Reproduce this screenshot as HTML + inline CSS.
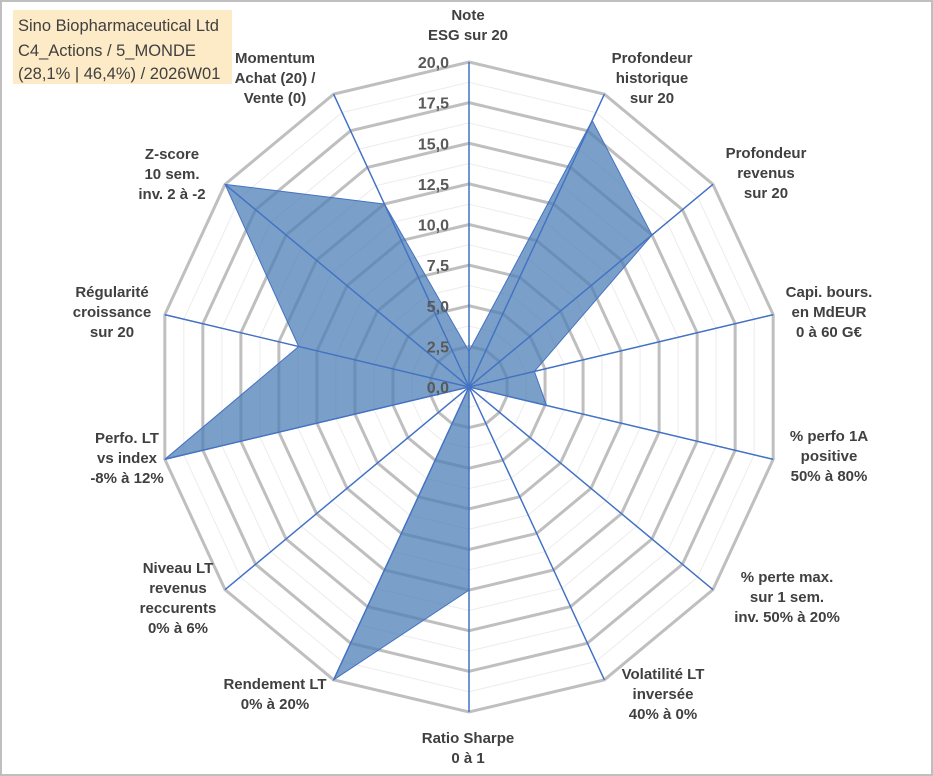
<!DOCTYPE html>
<html><head><meta charset="utf-8"><style>
html,body{margin:0;padding:0;background:#fff}
svg{display:block;font-family:"Liberation Sans",Arial,sans-serif}
.lbl{font-weight:bold;font-size:15px;fill:#404040;text-anchor:middle}
.tick{font-weight:bold;font-size:16px;fill:#595959;text-anchor:end}
</style></head><body>
<svg id="chart" width="933" height="776" viewBox="0 0 933 776">
<rect x="1" y="1" width="931" height="774" fill="#fff" stroke="#bfbfbf" stroke-width="2"/>
<g id="grid"></g>
<g id="axes"></g>
<g id="series"></g>
<g id="ticks"></g>
<g>
<text class="lbl" x="468" y="20"><tspan x="468">Note</tspan><tspan x="468" dy="20">ESG sur 20</tspan></text>
<text class="lbl" x="652" y="63"><tspan x="652">Profondeur</tspan><tspan x="652" dy="20">historique</tspan><tspan x="652" dy="20">sur 20</tspan></text>
<text class="lbl" x="766" y="158"><tspan x="766">Profondeur</tspan><tspan x="766" dy="20">revenus</tspan><tspan x="766" dy="20">sur 20</tspan></text>
<text class="lbl" x="829" y="297"><tspan x="829">Capi. bours.</tspan><tspan x="829" dy="20">en MdEUR</tspan><tspan x="829" dy="20">0 à 60 G€</tspan></text>
<text class="lbl" x="829" y="441"><tspan x="829">% perfo 1A</tspan><tspan x="829" dy="20">positive</tspan><tspan x="829" dy="20">50% à 80%</tspan></text>
<text class="lbl" x="787" y="582"><tspan x="787">% perte max.</tspan><tspan x="787" dy="20">sur 1 sem.</tspan><tspan x="787" dy="20">inv. 50% à 20%</tspan></text>
<text class="lbl" x="663" y="679"><tspan x="663">Volatilité LT</tspan><tspan x="663" dy="20">inversée</tspan><tspan x="663" dy="20">40% à 0%</tspan></text>
<text class="lbl" x="468" y="743"><tspan x="468">Ratio Sharpe</tspan><tspan x="468" dy="20">0 à 1</tspan></text>
<text class="lbl" x="275" y="689"><tspan x="275">Rendement LT</tspan><tspan x="275" dy="20">0% à 20%</tspan></text>
<text class="lbl" x="178" y="573"><tspan x="178">Niveau LT</tspan><tspan x="178" dy="20">revenus</tspan><tspan x="178" dy="20">reccurents</tspan><tspan x="178" dy="20">0% à 6%</tspan></text>
<text class="lbl" x="127" y="443"><tspan x="127">Perfo. LT</tspan><tspan x="127" dy="20">vs index</tspan><tspan x="127" dy="20">-8% à 12%</tspan></text>
<text class="lbl" x="112" y="297"><tspan x="112">Régularité</tspan><tspan x="112" dy="20">croissance</tspan><tspan x="112" dy="20">sur 20</tspan></text>
<text class="lbl" x="172" y="159"><tspan x="172">Z-score</tspan><tspan x="172" dy="20">10 sem.</tspan><tspan x="172" dy="20">inv. 2 à -2</tspan></text>
<text class="lbl" x="275" y="63"><tspan x="275">Momentum</tspan><tspan x="275" dy="20">Achat (20) /</tspan><tspan x="275" dy="20">Vente (0)</tspan></text>
</g>
<g>
<rect x="13" y="10" width="219" height="74" fill="#fdebc8"/>
<text x="18" y="31" font-size="16.5" fill="#404040">Sino Biopharmaceutical Ltd</text>
<text x="18" y="56" font-size="16.5" fill="#404040">C4_Actions / 5_MONDE</text>
<text x="18" y="79" font-size="16.5" fill="#404040">(28,1% | 46,4%) / 2026W01</text>
</g>
</svg>
<script>
const categories=["Note ESG","Profondeur historique","Profondeur revenus","Capi. bours.","% perfo 1A","% perte max.","Volatilité LT","Ratio Sharpe","Rendement LT","Niveau LT revenus","Perfo. LT","Régularité","Z-score","Momentum"];
const values=[2.2,18.2,15,4.3,5.1,0,0,12.5,20,0,20,11.2,20,12.5];
const tickValues=[0,2.5,5,7.5,10,12.5,15,17.5,20];
const tickLabels=["0,0","2,5","5,0","7,5","10,0","12,5","15,0","17,5","20,0"];
const maxV=20;
const cx=469,cy=387,rx=312,ry=325;
const NS="http://www.w3.org/2000/svg";
const n=categories.length;
function pt(i,v){const a=2*Math.PI*i/n;const f=v/maxV;return [cx+rx*f*Math.sin(a),cy-ry*f*Math.cos(a)];}
function poly(v){let s=[];for(let i=0;i<n;i++){s.push(pt(i,v).join(","));}return s.join(" ");}
const grid=document.getElementById("grid");
for(let k=1;k<=16;k++){
 const v=k*1.25;const p=document.createElementNS(NS,"polygon");
 p.setAttribute("points",poly(v));p.setAttribute("fill","none");
 if(k%2===0){p.setAttribute("stroke","#bfbfbf");p.setAttribute("stroke-width","3");}
 else{p.setAttribute("stroke","#ececec");p.setAttribute("stroke-width","1");}
 
 
 grid.appendChild(p);
}
const axes=document.getElementById("axes");
for(let i=0;i<n;i++){
 const e=pt(i,maxV);const l=document.createElementNS(NS,"line");
 l.setAttribute("x1",cx);l.setAttribute("y1",cy);l.setAttribute("x2",e[0]);l.setAttribute("y2",e[1]);
 l.setAttribute("stroke","#4472c4");l.setAttribute("stroke-width","1.3");
 
 
 axes.appendChild(l);
}
const series=document.getElementById("series");
let sp=[];for(let i=0;i<n;i++){sp.push(pt(i,values[i]).join(","));}
const area=document.createElementNS(NS,"polygon");
area.setAttribute("points",sp.join(" "));
area.setAttribute("fill","#4e7fb5");area.setAttribute("fill-opacity","0.75");
area.setAttribute("stroke","#4472c4");area.setAttribute("stroke-width","1");


series.appendChild(area);
for(let i=0;i<n;i++){
 const e=pt(i,maxV);const l=document.createElementNS(NS,"line");
 l.setAttribute("x1",cx);l.setAttribute("y1",cy);l.setAttribute("x2",e[0]);l.setAttribute("y2",e[1]);
 l.setAttribute("stroke","#4472c4");l.setAttribute("stroke-width","1.3");
 
 
 series.appendChild(l);
}
const ticks=document.getElementById("ticks");
for(let j=0;j<tickValues.length;j++){
 const y=cy-ry*tickValues[j]/maxV;const t=document.createElementNS(NS,"text");
 t.setAttribute("x",449);t.setAttribute("y",y+6);t.setAttribute("class","tick");
 t.textContent=tickLabels[j];
 
 
 ticks.appendChild(t);
}
</script>
</body></html>
